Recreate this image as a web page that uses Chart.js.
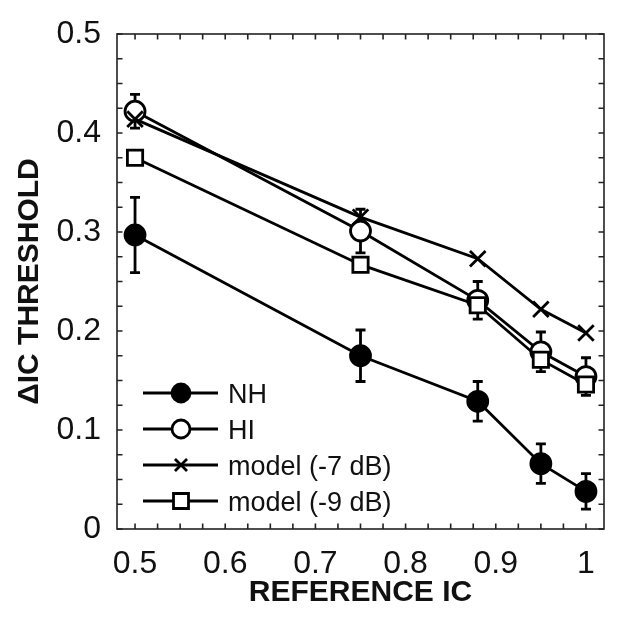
<!DOCTYPE html>
<html><head><meta charset="utf-8">
<script src="https://cdn.jsdelivr.net/npm/chart.js@4.4.0/dist/chart.umd.min.js"></script>
<style>html,body{margin:0;padding:0;background:#fff;}#wrap{width:620px;height:625px;}</style>
</head><body><div id="wrap"><canvas id="c" width="620" height="625"></canvas></div>
<script>
// ---- data ----
const referenceIC = [0.5, 0.75, 0.88, 0.95, 1.0];
const nhThreshold = [0.297, 0.175, 0.129, 0.066, 0.038];
const nhError     = [0.038, 0.026, 0.020, 0.020, 0.018];
const hiThreshold = [0.422, 0.301, 0.231, 0.179, 0.154];
const hiError     = [0.017, 0.022, 0.019, 0.020, 0.019];
const model7      = [0.414, 0.315, 0.273, 0.222, 0.198];
const model9      = [0.375, 0.267, 0.226, 0.171, 0.146];
const seriesLabels = ['NH', 'HI', 'model (-7 dB)', 'model (-9 dB)'];
const xTickLabels = [0.5, 0.6, 0.7, 0.8, 0.9, 1];
const yTickLabels = [0, 0.1, 0.2, 0.3, 0.4, 0.5];
const minorStep = 0.025;

const pts = arr => arr.map((v, i) => ({x: referenceIC[i], y: v}));
const stepTicks = labels => {
  const out = [];
  const a = labels[0], b = labels[labels.length - 1];
  for (let i = 0; ; i++) {
    const v = Math.round((a + i * minorStep) * 10000) / 10000;
    if (v > b + 1e-9) break;
    out.push({value: v});
  }
  return out;
};
const labelFor = labels => v => labels.some(l => Math.abs(l - v) < 1e-6) ? String(Math.round(v * 10) / 10) : '';

const INK = '#000';
const LW = 2.8;
const common = {borderColor: INK, borderWidth: LW, pointBorderWidth: LW, pointBorderColor: INK, showLine: true, tension: 0};
const datasets = [
  Object.assign({}, common, {label: seriesLabels[0], data: pts(nhThreshold), errors: nhError, pointStyle: 'circle', pointRadius: 10, pointBackgroundColor: INK, order: 0}),
  Object.assign({}, common, {label: seriesLabels[1], data: pts(hiThreshold), errors: hiError, pointStyle: 'circle', pointRadius: 10, pointBackgroundColor: '#fff', order: 3}),
  Object.assign({}, common, {label: seriesLabels[2], data: pts(model7), pointStyle: 'crossRot', pointRadius: 11, pointBackgroundColor: '#fff', order: 2}),
  Object.assign({}, common, {label: seriesLabels[3], data: pts(model9), pointStyle: 'rect', pointRadius: 10.8, pointBackgroundColor: '#fff', order: 1})
];

const framePlugin = {
  id: 'frame',
  beforeDatasetsDraw(chart) {
    const {ctx, chartArea: a, scales: {x, y}} = chart;
    ctx.save();
    ctx.strokeStyle = '#222';
    ctx.lineWidth = 1.6;
    ctx.strokeRect(a.left, a.top, a.right - a.left, a.bottom - a.top);
    const L = 5.5;
    ctx.beginPath();
    x.ticks.forEach(t => {
      const px = x.getPixelForValue(t.value);
      ctx.moveTo(px, a.bottom); ctx.lineTo(px, a.bottom - L);
      ctx.moveTo(px, a.top); ctx.lineTo(px, a.top + L);
    });
    y.ticks.forEach(t => {
      const py = y.getPixelForValue(t.value);
      ctx.moveTo(a.left, py); ctx.lineTo(a.left + L, py);
      ctx.moveTo(a.right, py); ctx.lineTo(a.right - L, py);
    });
    ctx.stroke();
    // error bars
    ctx.strokeStyle = INK;
    ctx.lineWidth = LW;
    chart.data.datasets.forEach(ds => {
      if (!ds.errors) return;
      ds.data.forEach((p, i) => {
        const e = ds.errors[i];
        const px = x.getPixelForValue(p.x);
        const y1 = y.getPixelForValue(p.y + e), y2 = y.getPixelForValue(p.y - e);
        const w = 5;
        ctx.beginPath();
        ctx.moveTo(px, y1); ctx.lineTo(px, y2);
        ctx.moveTo(px - w, y1); ctx.lineTo(px + w, y1);
        ctx.moveTo(px - w, y2); ctx.lineTo(px + w, y2);
        ctx.stroke();
      });
    });
    ctx.restore();
  }
};

function marker(ctx, style, cx, cy, r, fill) {
  ctx.beginPath();
  if (style === 'circle') {
    ctx.arc(cx, cy, r, 0, Math.PI * 2);
    ctx.fillStyle = fill; ctx.fill(); ctx.stroke();
  } else if (style === 'rect') {
    const s = r * Math.SQRT1_2;
    ctx.rect(cx - s, cy - s, 2 * s, 2 * s);
    ctx.fillStyle = fill; ctx.fill(); ctx.stroke();
  } else {
    const s = r * Math.SQRT1_2;
    ctx.moveTo(cx - s, cy - s); ctx.lineTo(cx + s, cy + s);
    ctx.moveTo(cx + s, cy - s); ctx.lineTo(cx - s, cy + s);
    ctx.stroke();
  }
}

const legendPlugin = {
  id: 'innerLegend',
  afterDraw(chart) {
    const {ctx, chartArea: a} = chart;
    const sizes = [9, 9, 8.5, 10.6];
    ctx.save();
    ctx.strokeStyle = INK;
    ctx.lineWidth = LW;
    ctx.font = '27px "Liberation Sans"';
    ctx.textBaseline = 'alphabetic';
    chart.data.datasets.forEach((ds, i) => {
      const ry = a.bottom - 136 + i * 36;
      const x0 = a.left + 26, x1 = a.left + 101, mx = a.left + 64;
      ctx.beginPath(); ctx.moveTo(x0, ry); ctx.lineTo(x1, ry); ctx.stroke();
      marker(ctx, ds.pointStyle, mx, ry, sizes[i], ds.pointBackgroundColor);
      ctx.fillStyle = '#111';
      ctx.fillText(ds.label, a.left + 111, ry + 9.5);
    });
    ctx.restore();
  }
};

new Chart(document.getElementById('c'), {
  type: 'scatter',
  data: {datasets},
  options: {
    responsive: false,
    animation: false,
    devicePixelRatio: 1,
    layout: {padding: {top: 34, right: 16, left: 0, bottom: 0}},
    plugins: {legend: {display: false}, tooltip: {enabled: false}},
    scales: {
      x: {
        type: 'linear', min: 0.48, max: 1.02,
        afterBuildTicks: s => { s.ticks = stepTicks(xTickLabels); },
        afterFit: s => { s.height = 96; },
        grid: {display: false}, border: {display: false},
        ticks: {autoSkip: false, maxRotation: 0, padding: 8, color: '#111',
          font: {family: '"Liberation Sans"', size: 32}, callback: labelFor(xTickLabels)},
        title: {display: true, text: 'REFERENCE IC', color: '#111',
          font: {family: '"Liberation Sans"', size: 30, weight: 'bold'}, padding: {top: 0, bottom: 14}}
      },
      y: {
        type: 'linear', min: 0, max: 0.5,
        afterBuildTicks: s => { s.ticks = stepTicks(yTickLabels); },
        afterFit: s => { s.width = 117; },
        grid: {display: false}, border: {display: false},
        ticks: {autoSkip: false, padding: 8, color: '#111',
          font: {family: '"Liberation Sans"', size: 32}, callback: labelFor(yTickLabels)},
        title: {display: true, text: 'ΔIC THRESHOLD', color: '#111',
          font: {family: '"Liberation Sans"', size: 30, weight: 'bold'}, padding: {top: 12, bottom: 0}}
      }
    }
  },
  plugins: [framePlugin, legendPlugin]
});
</script></body></html>
